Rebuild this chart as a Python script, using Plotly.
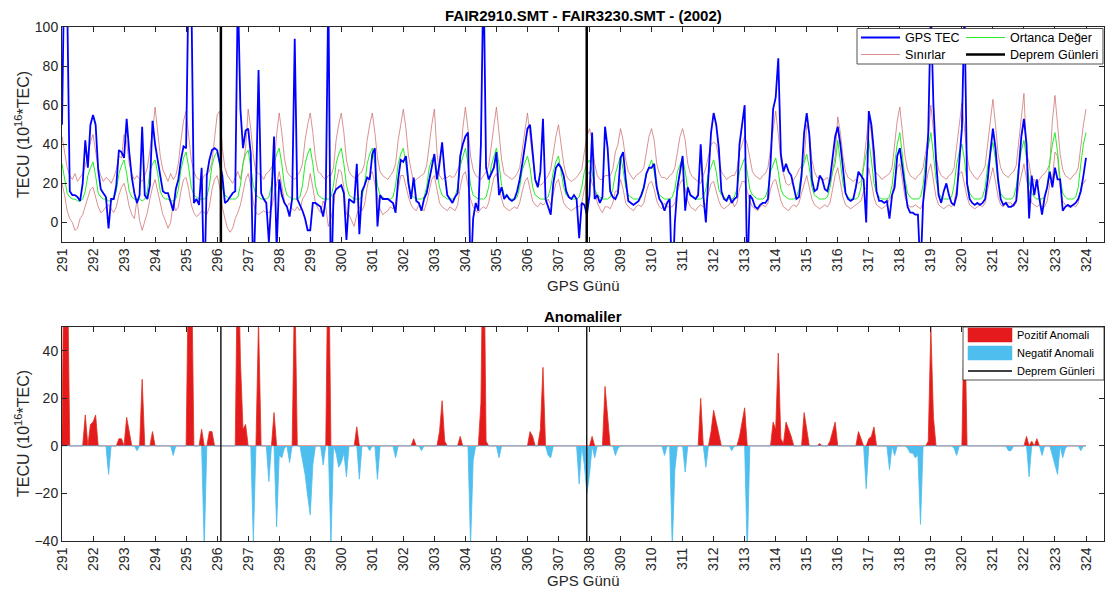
import plotly.graph_objects as go

# GPS days and the 2-hourly sampling hours used within each day
gunler = list(range(291, 324))
saatler = [0, 2, 4, 6, 8, 10, 12, 14, 16, 18, 20, 22]
son_gun = 324

# GPS TEC (TECU), one row per day
tec = [
    [50, 140, 115, 16, 14, 14, 13, 11, 20, 42, 28, 50],   # 291
    [55, 50, 27, 17, 15, 13, -3, 12, 12, 19, 37, 36],     # 292
    [33, 53, 36, 23, 15, 10, 14, 49, 14, 12, 19, 52],     # 293
    [40, 33, 24, 16, 15, 15, 11, 6, 17, 22, 32, 39],      # 294
    [38, 130, 120, 10, 12, 9, 28, -38, 24, 32, 37, 38],   # 295
    [37, 30, 24, 10, 11, 13, 15, 16, 120, 58, 38, 47],    # 296
    [48, 35, -30, 14, 78, 15, 12, 10, -10, 12, 44, -14],  # 297
    [22, 14, 10, 8, 3, 12, 94, 12, 9, 6, 2, -4],          # 298
    [-4, 10, 10, 9, 8, 3, 12, 120, -40, 14, 17, 18],      # 299
    [19, 15, -9, 12, 11, 10, 30, -6, 16, 19, 23, 22],     # 300
    [35, 38, -2, 14, 12, 12, 12, 11, 10, 5, 22, 32],      # 301
    [31, 34, 20, 12, 23, 11, 10, 6, 12, 15, 22, 28],      # 302
    [35, 22, 30, 41, 25, 14, 12, 10, 13, 15, 34, 40],     # 303
    [44, 46, -30, 2, 10, 6, 40, 130, 28, 22, 25, 28],     # 304
    [36, 14, 18, 12, 14, 12, 11, 12, 16, 22, 30, 40],     # 305
    [48, 50, 36, 22, 18, 26, 53, 12, 8, 4, 20, 28],       # 306
    [30, 28, 24, 16, 13, 12, 14, 12, -8, 10, 9, 4],       # 307
    [14, 46, 12, 14, 10, 13, 49, 38, 16, 13, 12, 15],     # 308
    [33, 36, 22, 11, 10, 9, 10, 11, 14, 18, 25, 28],      # 309
    [28, 30, 18, 12, 10, 6, 10, 12, -35, 0, 18, 26],      # 310
    [34, 6, 18, 14, 13, 12, 14, 40, 14, 0, 24, 46],       # 311
    [56, 50, 38, 16, 12, 11, 14, 10, 12, 13, 40, 50],     # 312
    [60, -30, 14, 12, 8, 7, 9, 10, 10, 12, 30, 58],       # 313
    [64, 84, 35, 26, 30, 26, 24, 18, 12, 13, 24, 46],     # 314
    [56, 45, 22, 16, 17, 24, 22, 17, 16, 22, 32, 44],     # 315
    [49, 40, 28, 15, 12, 11, 12, 18, 26, 24, 22, 0],      # 316
    [57, 50, 36, 16, 11, 11, 10, 11, 2, 14, 18, 34],      # 317
    [38, 28, 18, 8, 5, 5, 4, 4, -26, 10, 24, 46],         # 318
    [110, 60, 32, 14, 10, 16, 20, 14, 10, 9, 14, 30],     # 319
    [48, 110, 20, 12, 10, 9, 10, 9, 10, 12, 22, 36],      # 320
    [48, 38, 22, 12, 9, 10, 8, 8, 9, 11, 26, 44],         # 321
    [53, 40, 2, 24, 14, 22, 12, 4, 13, 18, 26, 18],       # 322
    [28, 22, 22, 6, 8, 9, 8, 9, 10, 12, 16, 24],          # 323
]
tec_son = 33

# Median (Ortanca Değer)
ortanca = [
    [30, 22, 15, 13, 12, 12, 11, 11, 12, 16, 24, 28],
    [31, 24, 15, 13, 12, 12, 11, 11, 12, 16, 25, 29],
    [32, 25, 16, 13, 12, 12, 12, 11, 12, 16, 26, 30],
    [32, 25, 16, 13, 12, 12, 11, 11, 12, 17, 27, 33],
    [36, 28, 18, 14, 13, 12, 12, 12, 13, 19, 29, 34],
    [36, 29, 18, 14, 13, 12, 12, 12, 13, 19, 30, 35],
    [37, 29, 19, 14, 13, 12, 12, 12, 13, 19, 30, 35],
    [38, 30, 19, 14, 13, 12, 12, 12, 13, 19, 30, 35],
    [38, 30, 19, 14, 13, 12, 12, 12, 13, 19, 30, 35],
    [38, 30, 19, 14, 13, 12, 12, 12, 13, 19, 30, 35],
    [38, 30, 19, 14, 13, 12, 12, 12, 13, 19, 30, 35],
    [38, 30, 19, 14, 13, 12, 12, 12, 13, 18, 28, 32],
    [34, 27, 18, 14, 13, 12, 12, 12, 13, 18, 29, 34],
    [38, 30, 19, 14, 13, 12, 12, 12, 13, 18, 29, 34],
    [38, 30, 19, 14, 13, 12, 12, 12, 13, 18, 27, 31],
    [34, 28, 18, 14, 13, 12, 12, 12, 13, 18, 26, 31],
    [34, 27, 18, 14, 13, 12, 12, 12, 13, 18, 26, 30],
    [32, 26, 17, 14, 13, 12, 12, 12, 13, 17, 25, 29],
    [34, 27, 18, 14, 13, 12, 12, 12, 13, 17, 25, 29],
    [32, 26, 17, 14, 13, 12, 12, 12, 13, 17, 26, 30],
    [33, 26, 17, 14, 13, 12, 12, 12, 13, 17, 25, 29],
    [32, 26, 17, 14, 13, 12, 12, 12, 13, 17, 26, 30],
    [33, 26, 17, 14, 13, 12, 12, 12, 13, 17, 26, 30],
    [33, 26, 17, 14, 13, 12, 12, 12, 13, 17, 26, 31],
    [35, 28, 18, 14, 13, 12, 12, 12, 13, 18, 26, 30],
    [42, 32, 20, 15, 13, 12, 12, 12, 13, 18, 28, 36],
    [42, 32, 20, 15, 13, 12, 12, 12, 13, 19, 30, 40],
    [46, 35, 22, 15, 13, 12, 12, 12, 13, 19, 32, 40],
    [46, 35, 22, 15, 13, 12, 12, 12, 13, 19, 30, 36],
    [40, 32, 20, 15, 13, 12, 12, 12, 13, 18, 29, 36],
    [41, 32, 20, 15, 13, 12, 12, 12, 13, 18, 29, 37],
    [42, 33, 21, 15, 13, 12, 12, 12, 13, 18, 31, 40],
    [46, 36, 22, 15, 13, 12, 12, 12, 13, 18, 30, 40],
]
ortanca_son = 46

# Upper bound (Sınırlar, üst)
ust_sinir = [
    [44, 36, 28, 24, 22, 25, 21, 23, 25, 29, 35, 41],
    [45, 37, 28, 24, 21, 23, 22, 20, 23, 27, 34, 33],
    [45, 41, 30, 25, 22, 24, 22, 21, 24, 28, 38, 46],
    [59, 48, 34, 27, 24, 21, 25, 22, 24, 30, 42, 52],
    [57, 46, 32, 26, 23, 22, 21, 24, 25, 26, 31, 42],
    [55, 57, 38, 28, 24, 22, 20, 23, 26, 22, 31, 38],
    [58, 48, 34, 26, 25, 24, 22, 25, 26, 28, 30, 45],
    [56, 46, 33, 26, 24, 23, 22, 24, 26, 30, 42, 50],
    [56, 46, 33, 26, 25, 23, 22, 24, 24, 28, 42, 50],
    [56, 46, 32, 26, 24, 23, 22, 25, 26, 30, 42, 50],
    [56, 46, 33, 26, 24, 23, 22, 24, 26, 30, 42, 50],
    [58, 48, 34, 27, 20, 22, 23, 24, 25, 29, 40, 50],
    [58, 36, 24, 22, 23, 23, 24, 23, 24, 27, 30, 48],
    [59, 48, 34, 27, 24, 23, 22, 24, 26, 29, 40, 50],
    [59, 46, 32, 25, 24, 23, 22, 23, 25, 28, 38, 47],
    [56, 44, 32, 22, 20, 19, 20, 22, 24, 27, 36, 44],
    [50, 40, 30, 24, 22, 21, 22, 23, 25, 27, 36, 44],
    [48, 42, 30, 24, 22, 22, 24, 24, 24, 27, 36, 40],
    [48, 42, 32, 26, 24, 22, 24, 25, 26, 28, 36, 44],
    [48, 42, 30, 25, 23, 23, 22, 24, 25, 28, 36, 44],
    [48, 42, 30, 25, 23, 22, 21, 20, 24, 28, 34, 40],
    [41, 40, 33, 26, 24, 22, 23, 24, 24, 27, 36, 40],
    [44, 40, 32, 26, 24, 23, 22, 24, 25, 28, 38, 48],
    [57, 45, 32, 25, 20, 19, 20, 22, 24, 27, 29, 32],
    [50, 46, 32, 26, 23, 23, 22, 22, 23, 20, 26, 34],
    [54, 46, 34, 26, 23, 22, 21, 22, 20, 21, 30, 42],
    [54, 46, 28, 25, 24, 22, 23, 24, 25, 28, 40, 52],
    [59, 48, 34, 27, 24, 23, 22, 24, 25, 28, 36, 44],
    [60, 48, 34, 27, 24, 23, 22, 24, 25, 28, 40, 52],
    [61, 48, 34, 27, 25, 23, 22, 24, 26, 29, 40, 52],
    [63, 50, 35, 28, 25, 24, 23, 25, 26, 29, 42, 55],
    [66, 36, 30, 22, 22, 19, 22, 24, 25, 27, 30, 52],
    [65, 50, 35, 27, 24, 23, 22, 24, 25, 28, 40, 50],
]
ust_son = 58

# Lower bound (Sınırlar, alt)
alt_sinir = [
    [20, 14, 6, 2, 0, -4, -3, 2, 4, 8, 13, 17],
    [18, 13, 8, 5, 6, 8, 9, 7, 5, 8, 14, 18],
    [20, 15, 8, 4, 2, 12, 1, -4, 0, 5, 12, 18],
    [22, 16, 9, 4, 1, -3, 0, 10, 6, 8, 16, 22],
    [23, 17, 9, 5, 3, 4, 6, 5, 4, 8, 17, 22],
    [24, 18, 8, 2, -3, -5, -3, 2, 5, 9, 16, 22],
    [25, 19, 10, 5, 4, 5, 6, 5, 5, 7, 14, 20],
    [26, 19, 11, 8, 10, 7, 6, 8, 6, 12, 14, 17],
    [25, 18, 10, 7, 5, 11, 8, -2, 2, 8, 20, 27],
    [26, 18, 4, 4, 1, -2, 4, 8, 6, 9, 18, 24],
    [26, 19, 12, 7, 4, 5, 6, 8, 7, 10, 18, 24],
    [24, 18, 13, 9, 7, 6, 9, 8, 6, 10, 17, 22],
    [24, 17, 10, 8, 7, 6, 8, 7, 6, 9, 18, 24],
    [26, 19, 12, 8, 6, 5, 7, 8, 7, 10, 17, 23],
    [25, 19, 12, 8, 7, 6, 7, 8, 7, 10, 16, 21],
    [23, 17, 11, 9, 8, 10, 9, 10, 12, 9, 15, 20],
    [22, 16, 10, 8, 7, 6, 7, 8, 8, 10, 17, 24],
    [26, 20, 17, 10, 7, 5, 8, 8, 7, 10, 16, 16],
    [22, 17, 10, 8, 7, 6, 8, 9, 8, 10, 16, 20],
    [21, 17, 11, 8, 7, 10, 8, 8, 8, 10, 16, 20],
    [22, 17, 11, 8, 7, 6, 8, 9, 8, 9, 15, 20],
    [21, 16, 11, 8, 7, 8, 9, 12, 8, 10, 17, 21],
    [21, 16, 11, 8, 7, 6, 8, 9, 8, 10, 17, 21],
    [22, 17, 11, 8, 7, 6, 8, 9, 8, 10, 15, 20],
    [24, 18, 12, 9, 8, 7, 8, 9, 8, 10, 17, 24],
    [28, 21, 13, 9, 8, 7, 8, 9, 10, 11, 16, 18],
    [28, 21, 13, 9, 8, 7, 8, 9, 12, 14, 22, 28],
    [30, 22, 13, 9, 8, 8, 9, 8, 7, 10, 18, 26],
    [30, 22, 13, 9, 8, 7, 8, 9, 8, 10, 18, 25],
    [26, 20, 13, 9, 8, 7, 8, 9, 8, 10, 17, 23],
    [28, 21, 13, 9, 8, 10, 10, 10, 8, 10, 18, 25],
    [30, 22, 15, 10, 9, 8, 9, 8, 8, 11, 20, 22],
    [36, 34, 18, 11, 9, 8, 8, 9, 8, 10, 18, 20],
]
alt_son = 22

# Earthquake days
deprem_gunleri = [296.12, 307.91]

x_ticks = gunler + [son_gun]


def duzle(satirlar, son):
    return [v for satir in satirlar for v in satir] + [son]


zaman = [g + s / 24 for g in gunler for s in saatler] + [son_gun]
tec_d = duzle(tec, tec_son)
ort_d = duzle(ortanca, ortanca_son)
ust_d = duzle(ust_sinir, ust_son)
alt_d = duzle(alt_sinir, alt_son)

# Anomalies: exceedance above the upper bound / below the lower bound
pozitif = [max(t - u, 0) for t, u in zip(tec_d, ust_d)]
negatif = [min(t - a, 0) for t, a in zip(tec_d, alt_d)]

FONT = "Liberation Sans, Arial, Helvetica, sans-serif"
AX = "#262626"
PEMBE = "rgba(205,110,110,0.75)"
KIRMIZI = "#e41a1c"
MAVI = "#4dbeee"

fig = go.Figure()

# --- upper panel ---
fig.add_trace(go.Scatter(x=zaman, y=ust_d, mode="lines", line=dict(color=PEMBE, width=1),
                         xaxis="x", yaxis="y", showlegend=False))
fig.add_trace(go.Scatter(x=zaman, y=alt_d, mode="lines", line=dict(color=PEMBE, width=1),
                         xaxis="x", yaxis="y", showlegend=False))
fig.add_trace(go.Scatter(x=zaman, y=ort_d, mode="lines", line=dict(color="#22ee22", width=1),
                         xaxis="x", yaxis="y", showlegend=False))
fig.add_trace(go.Scatter(x=zaman, y=tec_d, mode="lines", line=dict(color="#0000ff", width=1.8),
                         xaxis="x", yaxis="y", showlegend=False))

# --- lower panel ---
fig.add_trace(go.Scatter(x=zaman, y=pozitif, mode="lines", fill="tozeroy",
                         fillcolor=KIRMIZI, line=dict(color="#e0301e", width=0.8),
                         xaxis="x2", yaxis="y2", showlegend=False))
fig.add_trace(go.Scatter(x=zaman, y=negatif, mode="lines", fill="tozeroy",
                         fillcolor=MAVI, line=dict(color=MAVI, width=0.8),
                         xaxis="x2", yaxis="y2", showlegend=False))

shapes = []
for d in deprem_gunleri:
    shapes.append(dict(type="line", xref="x", yref="y domain", x0=d, x1=d, y0=0, y1=1,
                       line=dict(color="black", width=2.5), layer="above"))
    shapes.append(dict(type="line", xref="x2", yref="y2 domain", x0=d, x1=d, y0=0, y1=1,
                       line=dict(color="#1a1a1a", width=1.5), layer="above"))

# plot area in pixels: left 62, right 1104, top 27, bottom 541
L, R, T, B = 62, 1104, 27, 541


def px(xp):
    return (xp - L) / (R - L)


def py(yp):
    return (B - yp) / (B - T)


annotations = []

# upper legend box
shapes.append(dict(type="rect", xref="paper", yref="paper", x0=px(857), x1=px(1103),
                   y0=py(64), y1=py(28.5), fillcolor="white",
                   line=dict(color=AX, width=0.8), layer="above"))
ust_legend = [
    ("GPS TEC", "#0000ff", 1.8, 861, 37.5),
    ("Ortanca Değer", "#22ee22", 1.2, 966, 37.5),
    ("Sınırlar", PEMBE, 1.2, 861, 54.5),
    ("Deprem Günleri", "black", 2.5, 966, 54.5),
]
for ad, renk, kal, x0, y0 in ust_legend:
    shapes.append(dict(type="line", xref="paper", yref="paper", x0=px(x0), x1=px(x0 + 39),
                       y0=py(y0), y1=py(y0), line=dict(color=renk, width=kal), layer="above"))
    annotations.append(dict(text=ad, xref="paper", yref="paper", x=px(x0 + 42), y=py(y0),
                            xanchor="left", yanchor="middle", showarrow=False,
                            font=dict(family=FONT, size=12.5, color="black")))

# lower legend box
shapes.append(dict(type="rect", xref="paper", yref="paper", x0=px(963), x1=px(1104),
                   y0=py(380), y1=py(327), fillcolor="white",
                   line=dict(color=AX, width=0.8), layer="above"))
for ad, renk, y0 in [("Pozitif Anomali", KIRMIZI, 335), ("Negatif Anomali", MAVI, 353)]:
    shapes.append(dict(type="rect", xref="paper", yref="paper", x0=px(968), x1=px(1012),
                       y0=py(y0 + 7), y1=py(y0 - 7), fillcolor=renk,
                       line=dict(color=renk, width=0.5), layer="above"))
    annotations.append(dict(text=ad, xref="paper", yref="paper", x=px(1015), y=py(y0),
                            xanchor="left", yanchor="middle", showarrow=False,
                            font=dict(family=FONT, size=11, color="black")))
shapes.append(dict(type="line", xref="paper", yref="paper", x0=px(968), x1=px(1012),
                   y0=py(371), y1=py(371), line=dict(color="black", width=1.5), layer="above"))
annotations.append(dict(text="Deprem Günleri", xref="paper", yref="paper", x=px(1015), y=py(371),
                        xanchor="left", yanchor="middle", showarrow=False,
                        font=dict(family=FONT, size=11, color="black")))

# titles
annotations += [
    dict(text="<b>FAIR2910.SMT - FAIR3230.SMT - (2002)</b>", xref="paper", yref="paper",
         x=0.5, y=py(15), xanchor="center", yanchor="middle", showarrow=False,
         font=dict(family=FONT, size=15, color="black")),
    dict(text="<b>Anomaliler</b>", xref="paper", yref="paper",
         x=0.5, y=py(316), xanchor="center", yanchor="middle", showarrow=False,
         font=dict(family=FONT, size=15, color="black")),
    dict(text="GPS Günü", xref="paper", yref="paper", x=0.5, y=py(285),
         xanchor="center", yanchor="middle", showarrow=False,
         font=dict(family=FONT, size=15, color=AX)),
    dict(text="GPS Günü", xref="paper", yref="paper", x=0.5, y=py(580),
         xanchor="center", yanchor="middle", showarrow=False,
         font=dict(family=FONT, size=15, color=AX)),
    dict(text="TECU (10<sup>16</sup>*TEC)", xref="paper", yref="paper", x=px(22), y=py(135),
         xanchor="center", yanchor="middle", textangle=-90, showarrow=False,
         font=dict(family=FONT, size=16, color=AX)),
    dict(text="TECU (10<sup>16</sup>*TEC)", xref="paper", yref="paper", x=px(22), y=py(434),
         xanchor="center", yanchor="middle", textangle=-90, showarrow=False,
         font=dict(family=FONT, size=16, color=AX)),
]

eksen = dict(showline=True, linecolor=AX, linewidth=1, mirror="ticks", ticks="inside",
             ticklen=5, tickcolor=AX, showgrid=False, zeroline=False,
             tickfont=dict(family=FONT, size=14, color=AX))

x_ortak = dict(eksen, range=[291, 324.58], tickmode="array", tickvals=x_ticks,
               ticktext=[str(v) for v in x_ticks], tickangle=-90)

fig.update_layout(
    width=1108, height=592,
    margin=dict(l=L, r=1108 - R, t=T, b=592 - B),
    paper_bgcolor="white", plot_bgcolor="white",
    showlegend=False,
    xaxis=dict(x_ortak, domain=[0, 1], anchor="y"),
    yaxis=dict(eksen, domain=[py(242), 1], anchor="x", range=[-10, 100],
               tickmode="array", tickvals=[0, 20, 40, 60, 80, 100]),
    xaxis2=dict(x_ortak, domain=[0, 1], anchor="y2"),
    yaxis2=dict(eksen, domain=[0, py(327)], anchor="x2", range=[-40, 50],
                tickmode="array", tickvals=[-40, -20, 0, 20, 40]),
    shapes=shapes,
    annotations=annotations,
)

fig.write_html("out.html")
